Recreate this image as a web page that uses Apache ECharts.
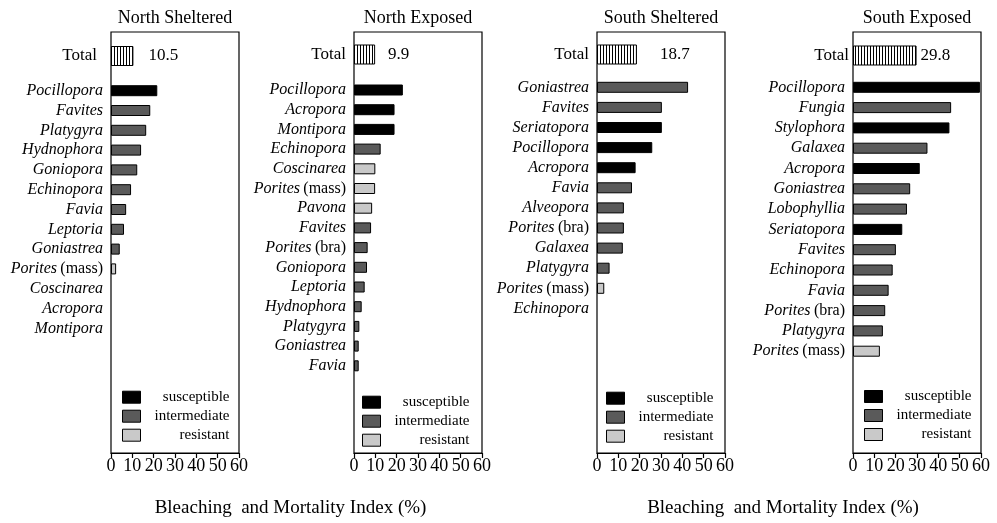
<!DOCTYPE html>
<html>
<head>
<meta charset="utf-8">
<script src="https://cdn.jsdelivr.net/npm/echarts@6/dist/echarts.min.js"></script>
<style>
  html, body { margin: 0; padding: 0; background: #fff; }
  #chart { width: 997px; height: 523px; }
</style>
</head>
<body>
<div id="chart"></div>
<script>
// ---- Data: Bleaching and Mortality Index (%) by genus and site ----
const siteNames = ['North Sheltered', 'North Exposed', 'South Sheltered', 'South Exposed'];
const totalIndex = [10.5, 9.9, 18.7, 29.8];
const classNames = ['susceptible', 'intermediate', 'resistant'];
const axisMin = 0, axisMax = 60, axisStep = 10;
const axisTitle = 'Bleaching  and Mortality Index (%)';

const nsGenera = ['Pocillopora', 'Favites', 'Platygyra', 'Hydnophora', 'Goniopora', 'Echinopora', 'Favia',
  'Leptoria', 'Goniastrea', 'Porites (mass)', 'Coscinarea', 'Acropora', 'Montipora'];
const nsValues = [21.7, 18.4, 16.5, 14.1, 12.3, 9.4, 7.1, 6.1, 4.1, 2.4, 0, 0, 0];
const nsClass = ['susceptible', 'intermediate', 'intermediate', 'intermediate', 'intermediate', 'intermediate',
  'intermediate', 'intermediate', 'intermediate', 'resistant', 'resistant', 'susceptible', 'susceptible'];

const neGenera = ['Pocillopora', 'Acropora', 'Montipora', 'Echinopora', 'Coscinarea', 'Porites (mass)', 'Pavona',
  'Favites', 'Porites (bra)', 'Goniopora', 'Leptoria', 'Hydnophora', 'Platygyra', 'Goniastrea', 'Favia'];
const neValues = [22.9, 19.0, 19.0, 12.5, 10.0, 9.9, 8.5, 8.0, 6.4, 6.1, 5.0, 3.6, 2.5, 2.2, 2.2];
const neClass = ['susceptible', 'susceptible', 'susceptible', 'intermediate', 'resistant', 'resistant', 'resistant',
  'intermediate', 'intermediate', 'intermediate', 'intermediate', 'intermediate', 'intermediate', 'intermediate', 'intermediate'];

const ssGenera = ['Goniastrea', 'Favites', 'Seriatopora', 'Pocillopora', 'Acropora', 'Favia', 'Alveopora',
  'Porites (bra)', 'Galaxea', 'Platygyra', 'Porites (mass)', 'Echinopora'];
const ssValues = [42.7, 30.4, 30.4, 25.9, 18.1, 16.4, 12.6, 12.6, 12.1, 5.9, 3.4, 0];
const ssClass = ['intermediate', 'intermediate', 'susceptible', 'susceptible', 'susceptible', 'intermediate',
  'intermediate', 'intermediate', 'intermediate', 'intermediate', 'resistant', 'intermediate'];

const seGenera = ['Pocillopora', 'Fungia', 'Stylophora', 'Galaxea', 'Acropora', 'Goniastrea', 'Lobophyllia',
  'Seriatopora', 'Favites', 'Echinopora', 'Favia', 'Porites (bra)', 'Platygyra', 'Porites (mass)'];
const seValues = [59.5, 46.0, 45.2, 34.9, 31.3, 26.8, 25.3, 23.1, 20.1, 18.6, 16.7, 15.1, 14.0, 12.6];
const seClass = ['susceptible', 'intermediate', 'susceptible', 'intermediate', 'susceptible', 'intermediate',
  'intermediate', 'susceptible', 'intermediate', 'intermediate', 'intermediate', 'intermediate', 'intermediate', 'resistant'];

const panels = [
  { genera: nsGenera, values: nsValues, cls: nsClass },
  { genera: neGenera, values: neValues, cls: neClass },
  { genera: ssGenera, values: ssValues, cls: ssClass },
  { genera: seGenera, values: seValues, cls: seClass }
];

// ---- Layout and style ----
const FONT = '"Liberation Serif", "Times New Roman", serif';
const classColor = { susceptible: '#000000', intermediate: '#5a5a5a', resistant: '#c9c9c9' };
const panelLeft = [111, 354, 597, 853];
const panelWidth = 128;
const boxTop = 32, boxBottom = 453;
const rowStep = [19.8, 19.7, 20.1, 20.3];
const firstRow = [90.7, 90.0, 87.3, 87.3];
const totalCenter = [56, 54.5, 54.5, 55.5];
const totalNameGap = [14, 8, 8, 4];
const totalValueGap = [15, 13, 23, 4];
const legendOffset = [11, 8, 9, 11];
const legendFirstRow = [396.7, 401.7, 397.7, 396];

// vertical-line hatch for the Total bars
function hatch() {
  const c = document.createElement('canvas');
  c.width = 3; c.height = 2;
  const g = c.getContext('2d');
  g.fillStyle = '#fff'; g.fillRect(0, 0, 3, 2);
  g.fillStyle = '#000'; g.fillRect(0, 0, 1, 2);
  return c;
}
const hatchImg = hatch();

function genusLabel(name) {
  const m = name.match(/^(\S+)\s+(\(.*\))$/);
  if (m) return '{i|' + m[1] + '} {n|' + m[2] + '}';
  return '{i|' + name + '}';
}

const grids = [], xAxes = [], yAxes = [], series = [], legends = [], texts = [];

panels.forEach((p, i) => {
  const L = panelLeft[i];
  const base = i * 3;
  // frame with the visible value axis
  grids.push({ left: L, top: boxTop, width: panelWidth, height: boxBottom - boxTop,
    show: true, borderColor: '#000', borderWidth: 1.2, backgroundColor: 'transparent' });
  // Total row
  grids.push({ left: L, top: totalCenter[i] - 12, width: panelWidth, height: 24 });
  // genus rows
  grids.push({ left: L, top: firstRow[i] - rowStep[i] / 2, width: panelWidth,
    height: rowStep[i] * p.genera.length });

  xAxes.push({ gridIndex: base, type: 'value', min: axisMin, max: axisMax, interval: axisStep,
    axisLine: { show: true, lineStyle: { color: '#000', width: 1.2 } },
    axisTick: { show: true, length: 5, lineStyle: { color: '#000', width: 1.2 } },
    axisLabel: { color: '#000', fontFamily: FONT, fontSize: 18, margin: 4 },
    splitLine: { show: false } });
  xAxes.push({ gridIndex: base + 1, type: 'value', min: axisMin, max: axisMax, show: false });
  xAxes.push({ gridIndex: base + 2, type: 'value', min: axisMin, max: axisMax, show: false });

  yAxes.push({ gridIndex: base, type: 'value', show: false });
  yAxes.push({ gridIndex: base + 1, type: 'category', data: ['Total'],
    axisLine: { show: false }, axisTick: { show: false },
    axisLabel: { color: '#000', fontFamily: FONT, fontSize: 17, margin: totalNameGap[i] } });
  yAxes.push({ gridIndex: base + 2, type: 'category', data: p.genera, inverse: true,
    axisLine: { show: false }, axisTick: { show: false },
    axisLabel: { margin: 8, formatter: genusLabel,
      rich: {
        i: { fontFamily: FONT, fontSize: 16, fontStyle: 'italic', color: '#000' },
        n: { fontFamily: FONT, fontSize: 16, fontStyle: 'normal', color: '#000' }
      } } });

  series.push({ type: 'bar', name: 'Total', xAxisIndex: base + 1, yAxisIndex: base + 1,
    data: [totalIndex[i]], barWidth: 20,
    itemStyle: { color: { image: hatchImg, repeat: 'repeat' }, borderColor: '#000', borderWidth: 1 },
    label: { show: true, position: 'right', distance: totalValueGap[i], color: '#000',
      fontFamily: FONT, fontSize: 17, formatter: (d) => d.value.toFixed(1) } });

  // a zero index leaves its row empty, so no outline is drawn for it
  classNames.forEach((c) => {
    series.push({ type: 'bar', name: c, stack: 'site' + i, xAxisIndex: base + 2, yAxisIndex: base + 2,
      data: p.values.map((v, k) => (p.cls[k] === c && v > 0 ? v : '-')), barWidth: 11,
      itemStyle: { color: classColor[c], borderColor: '#000', borderWidth: 1 } });
  });

  legends.push({ data: classNames, orient: 'vertical', selectedMode: false, icon: 'rect',
    left: L + legendOffset[i], top: legendFirstRow[i] - 7, padding: 0,
    itemWidth: 18, itemHeight: 12, itemGap: 4,
    itemStyle: { borderColor: '#000', borderWidth: 1 },
    formatter: (n) => '{r|' + n + '}',
    textStyle: { rich: { r: { width: 84, align: 'right', fontFamily: FONT, fontSize: 15,
      lineHeight: 14, color: '#000' } } } });

  texts.push({ type: 'text', x: L + panelWidth / 2, y: 18,
    style: { text: siteNames[i], fontFamily: FONT, fontSize: 18, fill: '#000',
      textAlign: 'center', textVerticalAlign: 'middle' } });
});

// shared axis titles under each pair of panels
[[panelLeft[0], panelLeft[1] + panelWidth], [panelLeft[2], panelLeft[3] + panelWidth]].forEach(([a, b]) => {
  texts.push({ type: 'text', x: (a + b) / 2 - 6, y: 508,
    style: { text: axisTitle, fontFamily: FONT, fontSize: 19, fill: '#000',
      textAlign: 'center', textVerticalAlign: 'middle' } });
});

const chart = echarts.init(document.getElementById('chart'), null, { renderer: 'canvas' });
chart.setOption({
  animation: false,
  backgroundColor: '#fff',
  grid: grids,
  xAxis: xAxes,
  yAxis: yAxes,
  legend: legends,
  series: series,
  graphic: texts
});
</script>
</body>
</html>
